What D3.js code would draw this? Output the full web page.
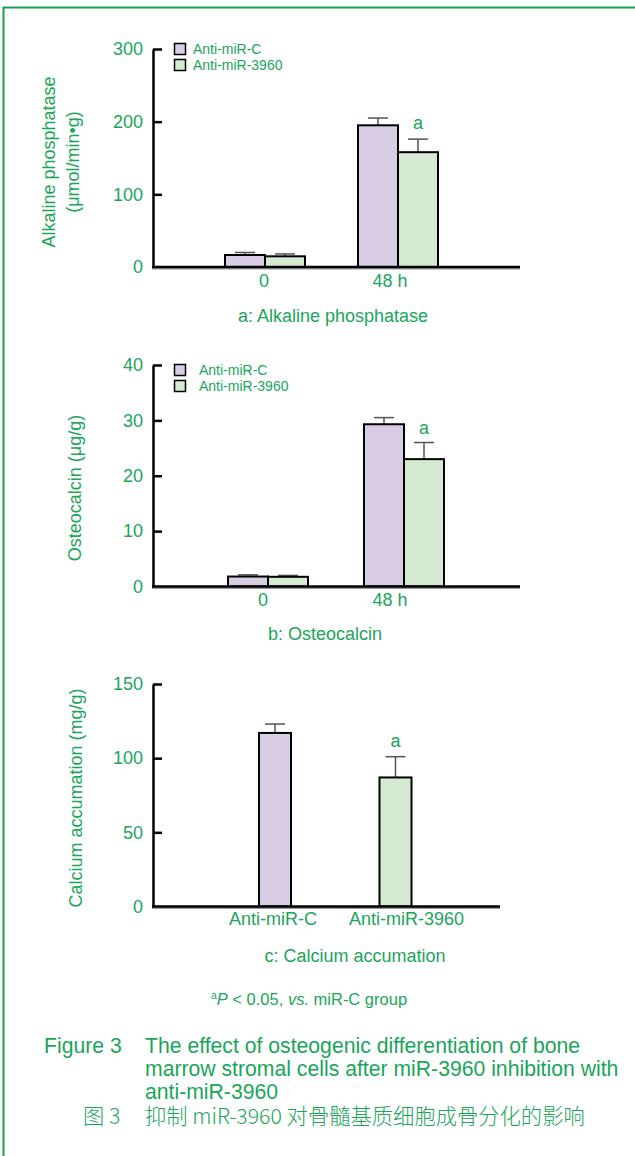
<!DOCTYPE html>
<html>
<head>
<meta charset="utf-8">
<script src="https://cdn.jsdelivr.net/npm/d3@7"></script>
<style>
  body { margin: 0; background: #fff; }
  svg text { font-family: "Liberation Sans", Arial, sans-serif; fill: #1aa55b; }
  .cjk { font-family: "Noto Sans CJK SC", sans-serif; font-weight: 300; }
</style>
</head>
<body>
<div id="fig"></div>
<script>
// ---------------- data ----------------
var seriesNames = ["Anti-miR-C", "Anti-miR-3960"];
var timeGroups = ["0", "48 h"];

var alpControl = [16.5, 195];
var alpControlErr = [3.5, 10];
var alpInhib = [14.7, 158];
var alpInhibErr = [3.3, 18];
var alpTicks = [0, 100, 200, 300];

var ocControl = [1.8, 29.3];
var ocControlErr = [0.3, 1.2];
var ocInhib = [1.75, 23.0];
var ocInhibErr = [0.25, 3.0];
var ocTicks = [0, 10, 20, 30, 40];

var caGroups = ["Anti-miR-C", "Anti-miR-3960"];
var caValues = [117, 87];
var caErr = [6, 14];
var caTicks = [0, 50, 100, 150];

var sigGroup = ["48 h", "48 h", "Anti-miR-3960"]; // bar marked with "a" in each panel

// ---------------- setup ----------------
var W = 635, H = 1156;
var green = "#1aa55b";
var fills = ["#d9cde6", "#d4ead1"];

var svg = d3.select("#fig").append("svg")
  .attr("width", W).attr("height", H);

// page frame
svg.append("rect")
  .attr("x", 3.5).attr("y", 7.5)
  .attr("width", W + 10).attr("height", H + 10)
  .attr("fill", "none").attr("stroke", "#1a9e50").attr("stroke-width", 2);

function drawYAxis(g, y, ticks) {
  var ax = g.append("g")
    .attr("transform", "translate(153,0)")
    .call(d3.axisLeft(y).tickValues(ticks).tickSizeInner(-9).tickSizeOuter(0).tickPadding(10));
  ax.select(".domain").attr("stroke", "#000").attr("stroke-width", 2.5);
  ax.selectAll(".tick line").attr("stroke", "#000").attr("stroke-width", 2.5);
  ax.selectAll(".tick text").attr("font-size", 18).attr("fill", green)
    .attr("font-family", "'Liberation Sans', Arial, sans-serif");
}

function drawXLine(g, y0, x1) {
  g.append("line").attr("x1", 152).attr("x2", x1)
    .attr("y1", y0 + 1.5).attr("y2", y0 + 1.5)
    .attr("stroke", "#999").attr("stroke-width", 2);
  g.append("line").attr("x1", 152).attr("x2", x1)
    .attr("y1", y0).attr("y2", y0)
    .attr("stroke", "#000").attr("stroke-width", 2.5);
}

function drawBar(g, x0, w, y, v, e, fill) {
  // error bar (upper only)
  g.append("line").attr("x1", x0 + w / 2).attr("x2", x0 + w / 2)
    .attr("y1", y(v)).attr("y2", y(v + e))
    .attr("stroke", "#555").attr("stroke-width", 1.5);
  g.append("line").attr("x1", x0 + w / 2 - 10).attr("x2", x0 + w / 2 + 10)
    .attr("y1", y(v + e)).attr("y2", y(v + e))
    .attr("stroke", "#555").attr("stroke-width", 1.5);
  g.append("rect")
    .attr("x", x0).attr("y", y(v))
    .attr("width", w).attr("height", y(0) - y(v))
    .attr("fill", fill).attr("stroke", "#000").attr("stroke-width", 2);
}

function drawLegend(g, lx, ly, tx) {
  seriesNames.forEach(function(name, i) {
    g.append("rect")
      .attr("x", lx).attr("y", ly + i * 16)
      .attr("width", 11).attr("height", 11)
      .attr("fill", fills[i]).attr("stroke", "#000").attr("stroke-width", 1.5);
    g.append("text")
      .attr("x", tx).attr("y", ly + 10 + i * 16)
      .attr("font-size", 14)
      .text(name);
  });
}

function yTitle(g, lines, cx, cy) {
  var t = g.append("text")
    .attr("transform", "translate(" + cx + "," + cy + ") rotate(-90)")
    .attr("text-anchor", "middle")
    .attr("font-size", 18);
  lines.forEach(function(s, i) {
    t.append("tspan").attr("x", 0).attr("dy", i === 0 ? 0 : 24).text(s);
  });
}

// ---------------- panel a ----------------
(function() {
  var g = svg.append("g");
  var y = d3.scaleLinear().domain([0, 300]).range([267, 49]);
  var x = d3.scalePoint().domain(timeGroups).range([265, 398]);
  var bw = 40;

  drawYAxis(g, y, alpTicks);
  timeGroups.forEach(function(grp, i) {
    drawBar(g, x(grp) - bw, bw, y, alpControl[i], alpControlErr[i], fills[0]);
    drawBar(g, x(grp), bw, y, alpInhib[i], alpInhibErr[i], fills[1]);
    // thin coloured base strokes under the bars
    g.append("line").attr("x1", x(grp) - bw + 2).attr("x2", x(grp) - 1)
      .attr("y1", y(0) + 1).attr("y2", y(0) + 1).attr("stroke", "#b22").attr("stroke-width", 1);
    g.append("line").attr("x1", x(grp) + 1).attr("x2", x(grp) + bw - 2)
      .attr("y1", y(0) + 1).attr("y2", y(0) + 1).attr("stroke", "#22a").attr("stroke-width", 1);
    g.append("text").attr("x", x(grp) - (i ? 8 : 1)).attr("y", 287)
      .attr("text-anchor", "middle").attr("font-size", 18).text(grp);
  });
  drawXLine(g, 267, 520);
  var si = timeGroups.indexOf(sigGroup[0]);
  g.append("text").attr("x", x(sigGroup[0]) + bw / 2).attr("y", y(alpInhib[si] + alpInhibErr[si]) - 10)
    .attr("text-anchor", "middle").attr("font-size", 18).text("a");

  drawLegend(g, 174.5, 43.5, 193);
  yTitle(g, ["Alkaline phosphatase", "(\u03bcmol/min\u2022g)"], 55, 162);
  g.append("text").attr("x", 333).attr("y", 322)
    .attr("text-anchor", "middle").attr("font-size", 18).text("a: Alkaline phosphatase");
})();

// ---------------- panel b ----------------
(function() {
  var g = svg.append("g");
  var y = d3.scaleLinear().domain([0, 40]).range([586.5, 365]);
  var x = d3.scalePoint().domain(timeGroups).range([268, 404]);
  var bw = 40;

  drawYAxis(g, y, ocTicks);
  timeGroups.forEach(function(grp, i) {
    drawBar(g, x(grp) - bw, bw, y, ocControl[i], ocControlErr[i], fills[0]);
    drawBar(g, x(grp), bw, y, ocInhib[i], ocInhibErr[i], fills[1]);
    g.append("text").attr("x", x(grp) - (i ? 14 : 5)).attr("y", 606)
      .attr("text-anchor", "middle").attr("font-size", 18).text(grp);
  });
  drawXLine(g, 586.5, 520);
  var si = timeGroups.indexOf(sigGroup[1]);
  g.append("text").attr("x", x(sigGroup[1]) + bw / 2).attr("y", y(ocInhib[si] + ocInhibErr[si]) - 9)
    .attr("text-anchor", "middle").attr("font-size", 18).text("a");

  drawLegend(g, 174.5, 364.5, 199);
  yTitle(g, ["Osteocalcin (\u03bcg/g)"], 81, 488);
  g.append("text").attr("x", 325).attr("y", 640)
    .attr("text-anchor", "middle").attr("font-size", 18).text("b: Osteocalcin");
})();

// ---------------- panel c ----------------
(function() {
  var g = svg.append("g");
  var y = d3.scaleLinear().domain([0, 150]).range([906.5, 684]);
  var x = d3.scalePoint().domain(caGroups).range([275, 395.5]);
  var bw = 32;

  drawYAxis(g, y, caTicks);
  caGroups.forEach(function(grp, i) {
    drawBar(g, x(grp) - bw / 2, bw, y, caValues[i], caErr[i], fills[i]);
    g.append("text").attr("x", x(grp) + (i ? 11 : -2)).attr("y", 925)
      .attr("text-anchor", "middle").attr("font-size", 18).text(grp);
  });
  drawXLine(g, 906.5, 500);
  var si = caGroups.indexOf(sigGroup[2]);
  g.append("text").attr("x", x(sigGroup[2])).attr("y", y(caValues[si] + caErr[si]) - 10)
    .attr("text-anchor", "middle").attr("font-size", 18).text("a");

  yTitle(g, ["Calcium accumation (mg/g)"], 82, 798);
  g.append("text").attr("x", 355).attr("y", 962)
    .attr("text-anchor", "middle").attr("font-size", 18).text("c: Calcium accumation");
})();

// ---------------- footnote & caption ----------------
var foot = svg.append("text").attr("x", 309).attr("y", 1005)
  .attr("text-anchor", "middle").attr("font-size", 16.5);
foot.append("tspan").attr("font-size", 10.5).attr("dy", -6).text("a");
foot.append("tspan").attr("font-style", "italic").attr("dy", 6).text("P");
foot.append("tspan").text(" < 0.05, ");
foot.append("tspan").attr("font-style", "italic").text("vs.");
foot.append("tspan").text(" miR-C group");

var capLines = [
  "The effect of osteogenic differentiation of bone",
  "marrow stromal cells after miR-3960 inhibition with",
  "anti-miR-3960"
];
svg.append("text").attr("x", 44).attr("y", 1053).attr("font-size", 21.2).text("Figure 3");
capLines.forEach(function(s, i) {
  svg.append("text").attr("x", 145).attr("y", 1053 + i * 23).attr("font-size", 21.2).text(s);
});
svg.append("text").attr("class", "cjk").attr("x", 83).attr("y", 1124).attr("font-size", 21.3).text("图 3");
svg.append("text").attr("class", "cjk").attr("x", 145).attr("y", 1124).attr("font-size", 21.3)
  .text("抑制 miR-3960 对骨髓基质细胞成骨分化的影响");
</script>
</body>
</html>
